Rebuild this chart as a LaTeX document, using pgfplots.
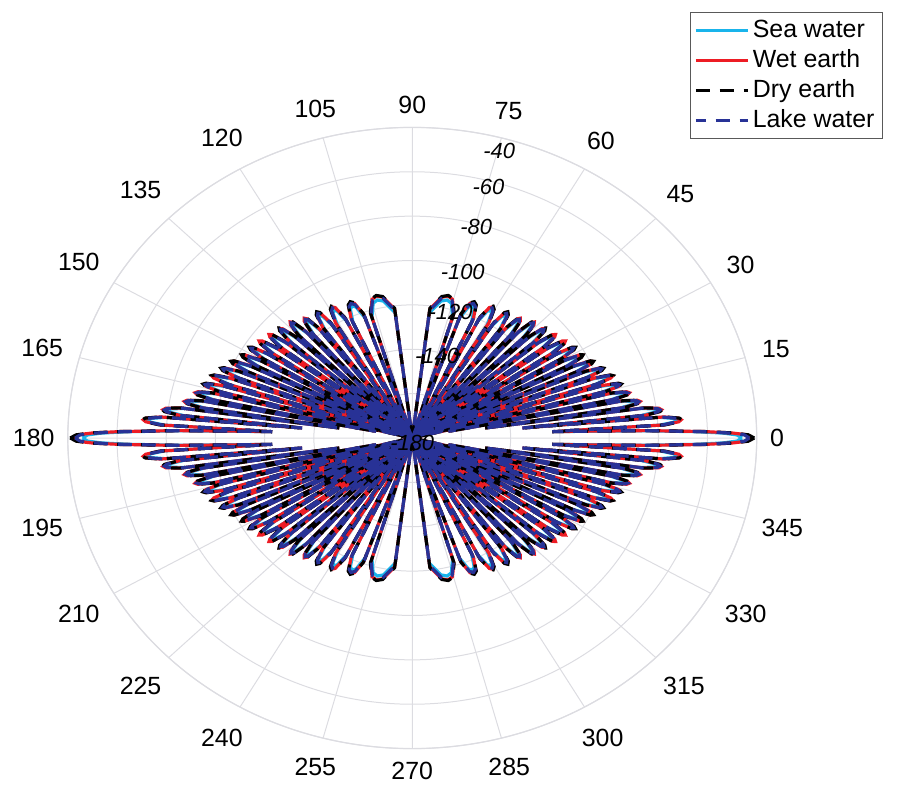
\documentclass[border=0pt]{standalone}
\usepackage{pgfplots}
\pgfplotsset{compat=1.18}
\usepackage{pgfplotstable}
\usepgfplotslibrary{polar}
\usepackage{fontspec}
\setmainfont{Liberation Sans}
\definecolor{seac}{RGB}{25,180,235}
\definecolor{wetc}{RGB}{237,28,36}
\definecolor{lakec}{RGB}{40,50,150}
\definecolor{gridc}{RGB}{220,220,225}

% a = theta, b = 180-theta, c = theta-180, d = -theta ; values in dB
\pgfplotstableread{
a b c d sea wet dry lake
0 180 -180 0 -46 -41.5 -41 -43
0.6 179.4 -179.4 -0.6 -48 -43.8 -43.4 -45
1.0 179.0 -179.0 -1.0 -53.5 -50 -49.6 -51
1.4 178.6 -178.6 -1.4 -64 -61.3 -61 -62
2.0 178.0 -178.0 -2.0 -86.5 -84.5 -84.2 -85
2.5 177.5 -177.5 -2.5 -111 -109.6 -109.4 -110
2.87 177.13 -177.13 -2.87 -123 -123 -123 -123
3.30 176.70 -176.70 -3.30 -79.2 -77.4 -77.1 -78
3.87 176.13 -176.13 -3.87 -73.2 -71.4 -71.1 -72
4.30 175.70 -175.70 -4.30 -72.2 -70.4 -70.1 -71
4.73 175.27 -175.27 -4.73 -73.2 -71.4 -71.1 -72
5.31 174.69 -174.69 -5.31 -79.2 -77.4 -77.1 -78
5.74 174.26 -174.26 -5.74 -135 -135 -135 -135
6.17 173.83 -173.83 -6.17 -86.7 -84.9 -84.6 -85.5
6.75 173.25 -173.25 -6.75 -80.7 -78.9 -78.6 -79.5
7.18 172.82 -172.82 -7.18 -79.7 -77.9 -77.6 -78.5
7.62 172.38 -172.38 -7.62 -80.7 -78.9 -78.6 -79.5
8.19 171.81 -171.81 -8.19 -86.7 -84.9 -84.6 -85.5
8.63 171.37 -171.37 -8.63 -150 -150 -150 -150
9.06 170.94 -170.94 -9.06 -94.7 -92.9 -92.6 -93.5
9.65 170.35 -170.35 -9.65 -88.7 -86.9 -86.6 -87.5
10.08 169.92 -169.92 -10.08 -87.7 -85.9 -85.6 -86.5
10.52 169.48 -169.48 -10.52 -88.7 -86.9 -86.6 -87.5
11.10 168.90 -168.90 -11.10 -94.7 -92.9 -92.6 -93.5
11.54 168.46 -168.46 -11.54 -165 -165 -165 -165
11.98 168.02 -168.02 -11.98 -98.2 -96.4 -96.1 -97
12.57 167.43 -167.43 -12.57 -92.2 -90.4 -90.1 -91
13.01 166.99 -166.99 -13.01 -91.2 -89.4 -89.1 -90
13.45 166.55 -166.55 -13.45 -92.2 -90.4 -90.1 -91
14.04 165.96 -165.96 -14.04 -98.2 -96.4 -96.1 -97
14.48 165.52 -165.52 -14.48 -180 -180 -180 -180
14.93 165.07 -165.07 -14.93 -100.7 -98.9 -98.6 -99.5
15.52 164.48 -164.48 -15.52 -94.7 -92.9 -92.6 -93.5
15.97 164.03 -164.03 -15.97 -93.7 -91.9 -91.6 -92.5
16.41 163.59 -163.59 -16.41 -94.7 -92.9 -92.6 -93.5
17.01 162.99 -162.99 -17.01 -100.7 -98.9 -98.6 -99.5
17.46 162.54 -162.54 -17.46 -180 -180 -180 -180
17.91 162.09 -162.09 -17.91 -102.7 -100.9 -100.6 -101.5
18.52 161.48 -161.48 -18.52 -96.7 -94.9 -94.6 -95.5
18.97 161.03 -161.03 -18.97 -95.7 -93.9 -93.6 -94.5
19.43 160.57 -160.57 -19.43 -96.7 -94.9 -94.6 -95.5
20.03 159.97 -159.97 -20.03 -102.7 -100.9 -100.6 -101.5
20.49 159.51 -159.51 -20.49 -180 -180 -180 -180
20.95 159.05 -159.05 -20.95 -105.2 -103.4 -103.1 -104
21.57 158.43 -158.43 -21.57 -99.2 -97.4 -97.1 -98
22.03 157.97 -157.97 -22.03 -98.2 -96.4 -96.1 -97
22.50 157.50 -157.50 -22.50 -99.2 -97.4 -97.1 -98
23.11 156.89 -156.89 -23.11 -105.2 -103.4 -103.1 -104
23.58 156.42 -156.42 -23.58 -180 -180 -180 -180
24.05 155.95 -155.95 -24.05 -107.7 -105.9 -105.6 -106.5
24.69 155.31 -155.31 -24.69 -101.7 -99.9 -99.6 -100.5
25.16 154.84 -154.84 -25.16 -100.7 -98.9 -98.6 -99.5
25.64 154.36 -154.36 -25.64 -101.7 -99.9 -99.6 -100.5
26.27 153.73 -153.73 -26.27 -107.7 -105.9 -105.6 -106.5
26.74 153.26 -153.26 -26.74 -180 -180 -180 -180
27.23 152.77 -152.77 -27.23 -110.2 -108.4 -108.1 -109
27.88 152.12 -152.12 -27.88 -104.2 -102.4 -102.1 -103
28.37 151.63 -151.63 -28.37 -103.2 -101.4 -101.1 -102
28.86 151.14 -151.14 -28.86 -104.2 -102.4 -102.1 -103
29.51 150.49 -150.49 -29.51 -110.2 -108.4 -108.1 -109
30.00 150.00 -150.00 -30.00 -180 -180 -180 -180
30.51 149.49 -149.49 -30.51 -111.2 -109.4 -109.1 -110
31.18 148.82 -148.82 -31.18 -105.2 -103.4 -103.1 -104
31.68 148.32 -148.32 -31.68 -104.2 -102.4 -102.1 -103
32.19 147.81 -147.81 -32.19 -105.2 -103.4 -103.1 -104
32.86 147.14 -147.14 -32.86 -111.2 -109.4 -109.1 -110
33.37 146.63 -146.63 -33.37 -180 -180 -180 -180
33.89 146.11 -146.11 -33.89 -112.7 -110.9 -110.6 -111.5
34.59 145.41 -145.41 -34.59 -106.7 -104.9 -104.6 -105.5
35.12 144.88 -144.88 -35.12 -105.7 -103.9 -103.6 -104.5
35.64 144.36 -144.36 -35.64 -106.7 -104.9 -104.6 -105.5
36.34 143.66 -143.66 -36.34 -112.7 -110.9 -110.6 -111.5
36.87 143.13 -143.13 -36.87 -180 -180 -180 -180
37.42 142.58 -142.58 -37.42 -114.2 -112.4 -112.1 -113
38.16 141.84 -141.84 -38.16 -108.2 -106.4 -106.1 -107
38.71 141.29 -141.29 -38.71 -107.2 -105.4 -105.1 -106
39.26 140.74 -140.74 -39.26 -108.2 -106.4 -106.1 -107
39.99 140.01 -140.01 -39.99 -114.2 -112.4 -112.1 -113
40.54 139.46 -139.46 -40.54 -180 -180 -180 -180
41.12 138.88 -138.88 -41.12 -115.7 -113.9 -113.6 -114.5
41.90 138.10 -138.10 -41.90 -109.7 -107.9 -107.6 -108.5
42.48 137.52 -137.52 -42.48 -108.7 -106.9 -106.6 -107.5
43.07 136.93 -136.93 -43.07 -109.7 -107.9 -107.6 -108.5
43.84 136.16 -136.16 -43.84 -115.7 -113.9 -113.6 -114.5
44.43 135.57 -135.57 -44.43 -180 -180 -180 -180
45.05 134.95 -134.95 -45.05 -116.7 -114.9 -114.6 -115.5
45.88 134.12 -134.12 -45.88 -110.7 -108.9 -108.6 -109.5
46.51 133.49 -133.49 -46.51 -109.7 -107.9 -107.6 -108.5
47.13 132.87 -132.87 -47.13 -110.7 -108.9 -108.6 -109.5
47.96 132.04 -132.04 -47.96 -116.7 -114.9 -114.6 -115.5
48.59 131.41 -131.41 -48.59 -180 -180 -180 -180
49.27 130.73 -130.73 -49.27 -119.2 -117.4 -117.1 -118
50.18 129.82 -129.82 -50.18 -113.2 -111.4 -111.1 -112
50.86 129.14 -129.14 -50.86 -112.2 -110.4 -110.1 -111
51.54 128.46 -128.46 -51.54 -113.2 -111.4 -111.1 -112
52.45 127.55 -127.55 -52.45 -119.2 -117.4 -117.1 -118
53.13 126.87 -126.87 -53.13 -180 -180 -180 -180
53.89 126.11 -126.11 -53.89 -120.2 -118.4 -118.1 -119
54.91 125.09 -125.09 -54.91 -114.2 -112.4 -112.1 -113
55.67 124.33 -124.33 -55.67 -113.2 -111.4 -111.1 -112
56.43 123.57 -123.57 -56.43 -114.2 -112.4 -112.1 -113
57.45 122.55 -122.55 -57.45 -120.2 -118.4 -118.1 -119
58.21 121.79 -121.79 -58.21 -180 -180 -180 -180
59.04 120.96 -120.96 -59.04 -121.2 -119.4 -119.1 -120
60.17 119.83 -119.83 -60.17 -115.2 -113.4 -113.1 -114
61.04 118.96 -118.96 -61.04 -114.2 -112.4 -112.1 -113
61.94 118.06 -118.06 -61.94 -115.2 -113.4 -113.1 -114
63.19 116.81 -116.81 -63.19 -121.2 -119.4 -119.1 -120
64.16 115.84 -115.84 -64.16 -180 -180 -180 -180
65.16 114.84 -114.84 -65.16 -122.7 -120.9 -120.6 -121.5
66.56 113.44 -113.44 -66.56 -116.7 -114.9 -114.6 -115.5
67.67 112.33 -112.33 -67.67 -115.7 -113.9 -113.6 -114.5
68.85 111.15 -111.15 -68.85 -116.7 -114.9 -114.6 -115.5
70.50 109.50 -109.50 -70.50 -122.7 -120.9 -120.6 -121.5
71.81 108.19 -108.19 -71.81 -180 -180 -180 -180
73.22 106.78 -106.78 -73.22 -123.2 -121.4 -121.1 -122
75.34 104.66 -104.66 -75.34 -117.2 -115.4 -115.1 -116
77.16 102.84 -102.84 -77.16 -116.2 -114.4 -114.1 -115
79.30 100.70 -100.70 -79.30 -117.2 -115.4 -115.1 -116
83.00 97.00 -97.00 -83.00 -123.2 -121.4 -121.1 -122
90.00 90.00 -90.00 -90.00 -180 -180 -180 -180
}\lobes

\begin{document}
\begin{tikzpicture}
\begin{polaraxis}[
  width=346pt, height=312pt, scale only axis,
  clip=false,
  xmin=0, xmax=360,
  ymin=-180, ymax=-40,
  y coord trafo/.code={\pgfmathparse{#1+180}},
  y coord inv trafo/.code={\pgfmathparse{#1-180}},
  xtick={0,15,...,345},
  xticklabels={0,15,30,45,60,75,90,105,120,135,150,165,180,195,210,225,240,255,270,285,300,315,330,345},
  ytick={-180,-160,-140,-120,-100,-80,-60,-40},
  yticklabels={},
  grid=major,
  major grid style={draw=gridc, line width=0.5pt},
  x axis line style={draw=gridc, line width=0.6pt},
  y axis line style={draw=none},
  major tick length=0pt,
  xticklabel style={font=\fontsize{12.5}{14}\selectfont, inner sep=6.5pt},
  legend style={at={(axis description cs:1.1835,1.186)}, anchor=north east,
    draw=gray!70!black, line width=0.6pt, fill=white,
    font=\fontsize{12.5}{15}\selectfont, inner xsep=2pt, inner ysep=2pt,
    row sep=0.5pt},
  legend cell align=left,
  legend image code/.code={\draw[#1,line width=1.3pt] (0pt,0pt) -- (26pt,0pt);},
]
\path (axis description cs:-0.0925,-0.0769) rectangle (axis description cs:1.208,1.2051);

\addplot[seac, line width=1.6pt] table[x=a,y=sea]{\lobes};
\addlegendentry{Sea water}
\addplot[seac, line width=1.6pt, forget plot] table[x=b,y=sea]{\lobes};
\addplot[seac, line width=1.6pt, forget plot] table[x=c,y=sea]{\lobes};
\addplot[seac, line width=1.6pt, forget plot] table[x=d,y=sea]{\lobes};

\addplot[wetc, line width=1.6pt] table[x=a,y=wet]{\lobes};
\addlegendentry{Wet earth}
\addplot[wetc, line width=1.6pt, forget plot] table[x=b,y=wet]{\lobes};
\addplot[wetc, line width=1.6pt, forget plot] table[x=c,y=wet]{\lobes};
\addplot[wetc, line width=1.6pt, forget plot] table[x=d,y=wet]{\lobes};

\addplot[black, line width=1.6pt, dash pattern=on 7pt off 5pt] table[x=a,y=dry]{\lobes};
\addlegendentry{Dry earth}
\addplot[black, line width=1.6pt, dash pattern=on 7pt off 5pt, forget plot] table[x=b,y=dry]{\lobes};
\addplot[black, line width=1.6pt, dash pattern=on 7pt off 5pt, forget plot] table[x=c,y=dry]{\lobes};
\addplot[black, line width=1.6pt, dash pattern=on 7pt off 5pt, forget plot] table[x=d,y=dry]{\lobes};

\addplot[lakec, line width=1.6pt, dash pattern=on 7pt off 5pt, dash phase=2pt] table[x=a,y=lake]{\lobes};
\addlegendentry{Lake water}
\addplot[lakec, line width=1.6pt, dash pattern=on 7pt off 5pt, dash phase=2pt, forget plot] table[x=b,y=lake]{\lobes};
\addplot[lakec, line width=1.6pt, dash pattern=on 7pt off 5pt, dash phase=2pt, forget plot] table[x=c,y=lake]{\lobes};
\addplot[lakec, line width=1.6pt, dash pattern=on 7pt off 5pt, dash phase=2pt, forget plot] table[x=d,y=lake]{\lobes};

\begin{scope}[every node/.style={font=\fontsize{11}{13}\selectfont\itshape, inner sep=0pt}]
\node at (axis cs:74.7,-46) {-40};
\node at (axis cs:74.7,-62.6) {-60};
\node at (axis cs:74.7,-81.6) {-80};
\node at (axis cs:74.7,-102.2) {-100};
\node at (axis cs:74.7,-121) {-120};
\node at (axis cs:74.7,-141.7) {-140};
\node[yshift=-2.5pt] at (axis cs:0,-180) {-180};
\end{scope}
\end{polaraxis}
\end{tikzpicture}
\end{document}
